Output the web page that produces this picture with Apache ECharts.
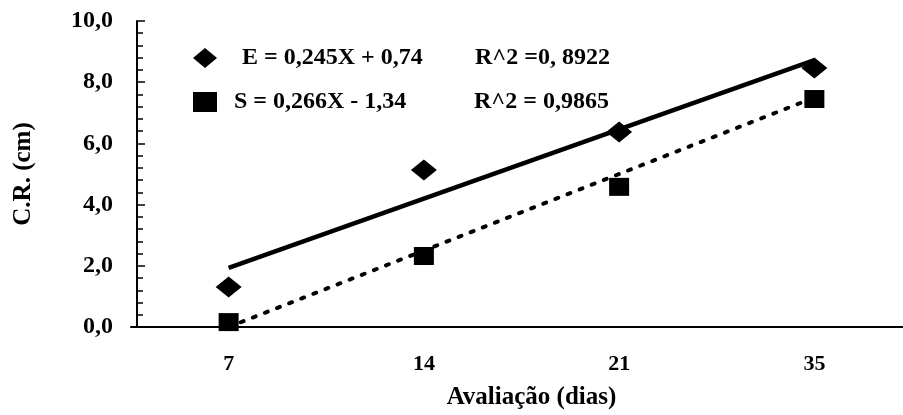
<!DOCTYPE html>
<html>
<head>
<meta charset="utf-8">
<script src="https://cdn.jsdelivr.net/npm/echarts@6/dist/echarts.min.js"></script>
<style>
html,body{margin:0;padding:0;background:#fff;}
#chart{width:903px;height:415px;}
</style>
</head>
<body>
<div id="chart"></div>
<script>
var categories = ['7', '14', '21', '35'];
var seriesE = [1.31, 5.13, 6.37, 8.46];
var seriesS = [0.16, 2.32, 4.58, 7.45];
var trendE = [1.93, null, null, 8.72];
var trendS = [0.0, null, null, 7.5];
var legendEq = {E: 'E = 0,245X + 0,74', S: 'S = 0,266X - 1,34'};
var legendR2 = {E: 'R^2 =0, 8922', S: 'R^2 = 0,9865'};
var yName = 'C.R. (cm)';
var xName = 'Avaliação (dias)';

var FONT = '"Liberation Serif", "Times New Roman", serif';
var chart = echarts.init(document.getElementById('chart'));
chart.setOption({
  backgroundColor: '#fff',
  animation: false,
  grid: {left: 131, right: -9, top: 21, bottom: 88, containLabel: false, outerBoundsMode: 'none'},
  legend: {
    orient: 'vertical',
    left: 188,
    top: 41,
    itemGap: 20,
    itemWidth: 24,
    itemHeight: 20,
    data: ['E', 'S'],
    formatter: function (n) {
      return (n === 'E' ? '{e|' : '{s|') + legendEq[n] + '}{r|' + legendR2[n] + '}';
    },
    textStyle: {
      fontFamily: FONT, fontWeight: 'bold', fontSize: 24, color: '#000',
      rich: {
        e: {fontFamily: FONT, fontWeight: 'bold', fontSize: 24, color: '#000', width: 233, padding: [0, 0, 0, 20]},
        s: {fontFamily: FONT, fontWeight: 'bold', fontSize: 24, color: '#000', width: 240, padding: [0, 0, 0, 12]},
        r: {fontFamily: FONT, fontWeight: 'bold', fontSize: 24, color: '#000'}
      }
    }
  },
  xAxis: {
    type: 'category',
    data: categories,
    boundaryGap: true,
    name: xName,
    nameLocation: 'middle',
    nameGap: 58,
    nameTextStyle: {fontFamily: FONT, fontWeight: 'bold', fontSize: 25, color: '#000', padding: [0, 0, 0, 20]},
    axisLine: {lineStyle: {color: '#000', width: 2}},
    axisTick: {show: false},
    axisLabel: {fontFamily: FONT, fontWeight: 'bold', fontSize: 22, color: '#000', margin: 26},
    splitLine: {show: false}
  },
  yAxis: {
    type: 'value',
    min: 0,
    max: 10,
    interval: 2,
    offset: -6,
    name: yName,
    nameLocation: 'middle',
    nameGap: 89,
    nameTextStyle: {fontFamily: FONT, fontWeight: 'bold', fontSize: 25, color: '#000', padding: [0, 0, 12, 0]},
    axisLine: {show: true, lineStyle: {color: '#000', width: 2}},
    axisTick: {show: true, inside: true, length: 8, lineStyle: {color: '#000', width: 1.5}},
    minorTick: {show: true, splitNumber: 5, length: 6, lineStyle: {color: '#000', width: 1.5}},
    axisLabel: {
      fontFamily: FONT, fontWeight: 'bold', fontSize: 24, color: '#000', margin: 24,
      formatter: function (v) { return v.toFixed(1).replace('.', ','); }
    },
    splitLine: {show: false}
  },
  series: [
    {
      name: 'trendE', type: 'line', data: trendE, connectNulls: true,
      showSymbol: false, symbol: 'none', z: 2, silent: true,
      lineStyle: {color: '#000', width: 4.5}
    },
    {
      name: 'trendS', type: 'line', data: trendS, connectNulls: true,
      showSymbol: false, symbol: 'none', z: 2, silent: true,
      lineStyle: {color: '#000', width: 4, type: [3, 10], cap: 'round'}
    },
    {
      name: 'E', type: 'scatter', data: seriesE, symbol: 'diamond', symbolSize: [26, 21], z: 3,
      itemStyle: {color: '#000', opacity: 1}
    },
    {
      name: 'S', type: 'scatter', data: seriesS, symbol: 'rect', symbolSize: [20, 18], z: 3,
      itemStyle: {color: '#000', opacity: 1}
    }
  ]
});
</script>
</body>
</html>
